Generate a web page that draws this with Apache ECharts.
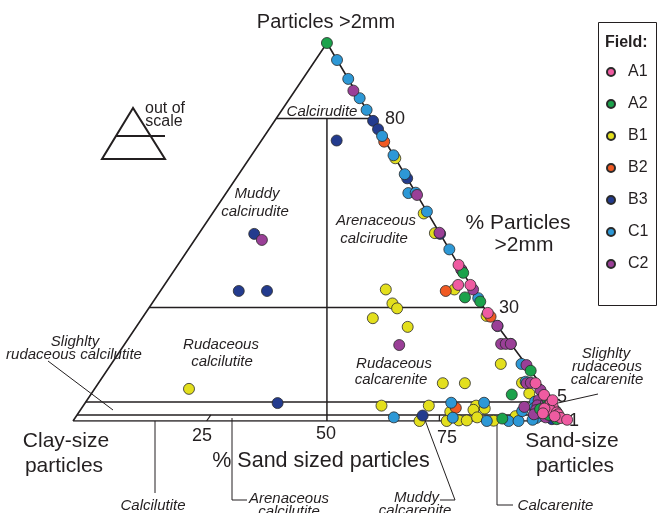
<!DOCTYPE html>
<html>
<head>
<meta charset="utf-8">
<script src="https://cdn.jsdelivr.net/npm/echarts@6/dist/echarts.min.js"></script>
<style>
  html, body { margin: 0; padding: 0; background: #fff; }
  #chart { width: 657px; height: 513px; }
</style>
</head>
<body>
<div id="chart"></div>
<script>
// samples per field: [% sand in matrix (sand / (sand + clay)), % particles > 2mm]
const A1 = [[100, 41.3], [96, 36], [100, 36], [100, 28.6], [99, 10], [99, 6.9], [99, 4.5], [99, 3.5], [98, 2.5], [99, 1.8], [99, 1.2], [99, 0.5], [100, 0.2], [97, 3], [96, 1.5], [98, 0.8], [100, 5.5]];
const A2 = [[100, 100], [100, 39.2], [96, 32.7], [100, 31.6], [100, 13.3], [92, 7], [99, 5.6], [87, 0.4], [98, 3.8], [99, 2.2], [97, 1], [98, 0.3], [96, 2.8]];
const B1 = [[100, 69.5], [98, 54.9], [98, 49.7], [94, 34.8], [99, 27.8], [21, 8.5], [72, 34.8], [73, 31.1], [74, 29.8], [66, 27.2], [75, 24.9], [78, 10], [83, 10], [94, 15.1], [96, 10.1], [96, 7.3], [63, 3.9], [73, 3.9], [77, 2], [83, 3.9], [84.5, 3], [82, 2.6], [70, 0], [75.5, 0], [78, 0.1], [79.6, 0.1], [82, 0.6], [85, 0.05], [90, 0.8]];
const B2 = [[99, 73.9], [91, 34.4], [100, 27.6], [78.5, 3.2]];
const B3 = [[100, 79.4], [100, 77.2], [100, 64.2], [100, 49.5], [100, 39.9], [100, 20.4], [61, 74.2], [23, 49.5], [25, 34.4], [34, 34.4], [41, 4.7], [71, 0.9], [97, 0.3]];
const C1 = [[100, 95.5], [100, 90.5], [100, 85.4], [100, 82.3], [100, 75.4], [100, 70.3], [100, 65.3], [96, 60.3], [100, 60.4], [100, 55.4], [100, 45.4], [100, 32.5], [100, 25.1], [99, 15.1], [97, 10.4], [96, 5.1], [78, 4.8], [85, 4.8], [65, 0.6], [77, 0.55], [83.6, 0], [88, 0], [90, 0], [94, 0.5], [93, 0.2], [95, 1.6], [92, 2.2], [95, 3.2]];
const C2 = [[97, 87.4], [100, 59.8], [100, 49.8], [100, 40.1], [100, 34.8], [100, 25.2], [97.5, 20.4], [98.7, 20.4], [100, 20.4], [27, 47.9], [71, 20.1], [100, 14.8], [97, 10], [98, 10.1], [99, 8.2], [97, 5.5], [96, 4], [95, 2.5], [94, 1.2], [96, 0.6], [98, 4.5], [97, 1.8], [93, 3.5]];

const fields = ['A1', 'A2', 'B1', 'B2', 'B3', 'C1', 'C2'];
const gravelLines = [80, 30, 5, 1];
const bottomTicks = [27, 74];

const colors = { A1: '#ef5ba1', A2: '#1ba24b', B1: '#e3df1d', B2: '#f05a23', B3: '#233b8e', C1: '#2d98d6', C2: '#9a3f97' };
const dataBy = { A1, A2, B1, B2, B3, C1, C2 };
const drawOrder = ['B1', 'B2', 'B3', 'C1', 'C2', 'A2', 'A1'];

const FONT = "'Liberation Sans', Arial, sans-serif";
const INK = '#231f20';

// triangle geometry (out of scale below 5 %, right side bent at 30 %)
const APEX_X = 51.3, EDGE30_X = 83.0;
function toXY(sand, gravel) {
    let h = gravel >= 5 ? gravel : gravel >= 1 ? 1.6 + (gravel - 1) * 0.85 : gravel * 1.6;
    let xl = APEX_X * h / 100;
    let xr = h >= 30 ? APEX_X + (EDGE30_X - APEX_X) * (100 - h) / 70 : EDGE30_X + (100 - EDGE30_X) * (30 - h) / 30;
    return [xl + (xr - xl) * Math.min(sand, 100) / 100, h];
}

function lineSeries(points, width) {
    return {
        type: 'line', data: points, symbol: 'none', silent: true, animation: false,
        lineStyle: { color: INK, width: width || 1.5 }, z: 1
    };
}

let series = [];
series.push(lineSeries([toXY(0, 0), toXY(100, 100), toXY(100, 30), toXY(100, 0), toXY(0, 0)], 1.6));
gravelLines.forEach(g => series.push(lineSeries([toXY(0, g), toXY(100, g)])));
series.push(lineSeries([[APEX_X, 80], [APEX_X, 0]]));
bottomTicks.forEach(s => series.push(lineSeries([toXY(s, 0), toXY(s + 0.5, 1)], 1.2)));

drawOrder.forEach(f => {
    series.push({
        name: f, type: 'scatter', animation: false,
        data: dataBy[f].map(p => toXY(p[0], p[1])),
        symbol: 'circle', symbolSize: 11,
        itemStyle: { color: colors[f], borderColor: '#2a2a2a', borderWidth: 0.8, opacity: 1 },
        z: 3
    });
});

const txt = (text, x, y, size, extra) => ({
    type: 'text', x, y, silent: true,
    style: Object.assign({ text, fontSize: size, fontFamily: FONT, fill: INK, textAlign: 'center', textVerticalAlign: 'middle' }, extra || {})
});
const it = (text, x, y, extra) => txt(text, x, y, 15, Object.assign({ fontStyle: 'italic' }, extra || {}));
const leader = (points) => ({ type: 'polyline', silent: true, shape: { points }, style: { stroke: INK, lineWidth: 1, fill: null } });

const graphic = [
    txt('Particles >2mm', 326, 22, 20),
    txt('Clay-size', 66, 441, 21), txt('particles', 64, 466, 21),
    txt('Sand-size', 572, 441, 21), txt('particles', 575, 466, 21),
    txt('% Sand sized particles', 321, 461, 21.5),
    txt('% Particles', 518, 223, 21), txt('>2mm', 524, 245, 21),
    txt('80', 395, 119, 18), txt('30', 509, 308, 18), txt('5', 562, 397, 18), txt('1', 574, 421, 18),
    txt('25', 202, 436, 18), txt('50', 326, 434, 18), txt('75', 447, 438, 18),
    it('Calcirudite', 322, 111.5),
    it('Muddy', 257, 194), it('calcirudite', 255, 212),
    it('Arenaceous', 376, 221), it('calcirudite', 374, 239),
    it('Rudaceous', 221, 345), it('calcilutite', 222, 362),
    it('Rudaceous', 394, 364), it('calcarenite', 391, 380),
    it('Slighlty', 75, 342), it('rudaceous calcilutite', 74, 355),
    it('Slighlty', 606, 354), it('rudaceous', 607, 367), it('calcarenite', 607, 380),
    it('Calcilutite', 153, 505.5),
    it('Arenaceous', 289, 499), it('calcilutite', 289, 512),
    it('Muddy', 439, 498, { textAlign: 'right' }), it('calcarenite', 415, 511),
    it('Calcarenite', 555.5, 505.5),
    leader([[48, 361], [113, 410]]),
    leader([[598, 394], [518, 412]]),
    leader([[155, 421], [155, 493]]),
    leader([[232, 418], [232, 500], [247, 500]]),
    leader([[425, 420], [455, 500], [440, 500]]),
    leader([[497, 421], [497, 505], [513, 505]]),
    // out of scale sign
    { type: 'polygon', silent: true, shape: { points: [[133, 108], [102, 159], [165, 159]] }, style: { stroke: INK, lineWidth: 2, fill: null } },
    { type: 'line', silent: true, shape: { x1: 116, y1: 136, x2: 165, y2: 136 }, style: { stroke: INK, lineWidth: 2 } },
    txt('out of', 165, 109, 16), txt('scale', 164, 121.5, 16),
    // legend frame
    { type: 'rect', silent: true, shape: { x: 598.5, y: 22.5, width: 58, height: 283 }, style: { stroke: INK, lineWidth: 1, fill: null } },
    txt('Field:', 605, 43, 16, { textAlign: 'left', fontWeight: 'bold' })
];

const chart = echarts.init(document.getElementById('chart'), null, { renderer: 'canvas' });
chart.setOption({
    backgroundColor: '#fff',
    animation: false,
    grid: { left: 73, right: 89, top: 43, bottom: 92 },
    xAxis: { type: 'value', min: 0, max: 100, show: false },
    yAxis: { type: 'value', min: 0, max: 100, show: false },
    legend: {
        data: fields, orient: 'vertical', left: 601, top: 59,
        itemWidth: 18, itemHeight: 8, itemGap: 16, icon: 'circle',
        textStyle: { fontSize: 16, fontFamily: FONT, color: INK, padding: [0, 0, 0, 3] }
    },
    graphic,
    series
});
</script>
</body>
</html>
